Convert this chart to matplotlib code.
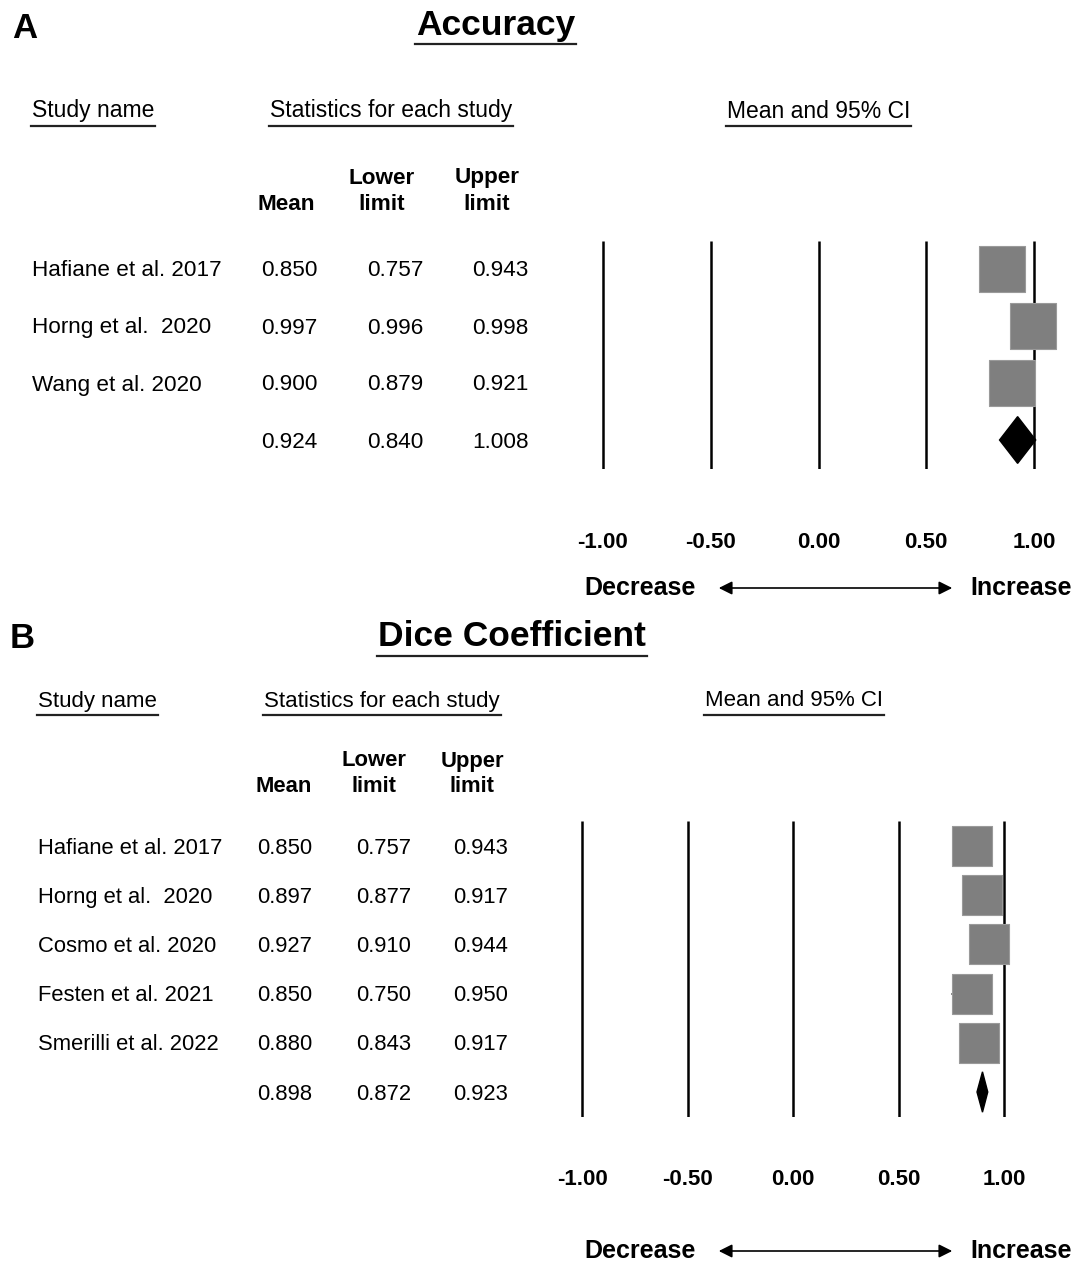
import matplotlib
matplotlib.use("Agg")
import matplotlib.pyplot as plt
from matplotlib.patches import FancyArrowPatch

plt.rcParams['font.family'] = ['Liberation Sans', 'DejaVu Sans']

W, H = 1074, 1262

# panel A - accuracy
acc_names = ["Hafiane et al. 2017", "Horng et al.  2020", "Wang et al. 2020", ""]
acc_mean = [0.850, 0.997, 0.900, 0.924]
acc_lower = [0.757, 0.996, 0.879, 0.840]
acc_upper = [0.943, 0.998, 0.921, 1.008]

# panel B - dice coefficient
dice_names = ["Hafiane et al. 2017", "Horng et al.  2020", "Cosmo et al. 2020",
              "Festen et al. 2021", "Smerilli et al. 2022", ""]
dice_mean = [0.850, 0.897, 0.927, 0.850, 0.880, 0.898]
dice_lower = [0.757, 0.877, 0.910, 0.750, 0.843, 0.872]
dice_upper = [0.943, 0.917, 0.944, 0.950, 0.917, 0.923]

ticks = [-1.0, -0.5, 0.0, 0.5, 1.0]
tick_labels = ["-1.00", "-0.50", "0.00", "0.50", "1.00"]

fig = plt.figure(figsize=(W / 100, H / 100), dpi=100)
bg = fig.add_axes([0, 0, 1, 1])
bg.set_xlim(0, W)
bg.set_ylim(H, 0)
bg.axis('off')

renderer = fig.canvas.get_renderer()


def underlined(x, y, s, size, bold=False, gap=3):
    t = bg.text(x, y, s, fontsize=size, fontweight='bold' if bold else 'normal',
                va='center', ha='left')
    bb = t.get_window_extent(renderer)
    yb = H - bb.y0 + gap
    bg.plot([bb.x0 - 1, bb.x1 + 1], [yb, yb], color='#222222', lw=1.6)
    return t


def forest(names, mean, lower, upper, cfg):
    n = len(mean)
    fs = cfg['fs']
    # header block
    bg.text(cfg['letter'][0], cfg['letter'][1], cfg['letter'][2], fontsize=25,
            fontweight='bold', va='center')
    underlined(cfg['title'][0], cfg['title'][1], cfg['title'][2], 25.5, bold=True, gap=2)
    for x, s in zip(cfg['sub_x'], ["Study name", "Statistics for each study", "Mean and 95% CI"]):
        underlined(x, cfg['sub_y'], s, cfg['sub_fs'])
    hy1, hy2 = cfg['head_y']
    hx = cfg['head_x']
    bg.text(hx[0], hy2, "Mean", fontsize=fs, fontweight='bold', ha='center', va='center')
    bg.text(hx[1], hy1, "Lower", fontsize=fs, fontweight='bold', ha='center', va='center')
    bg.text(hx[1], hy2, "limit", fontsize=fs, fontweight='bold', ha='center', va='center')
    bg.text(hx[2], hy1, "Upper", fontsize=fs, fontweight='bold', ha='center', va='center')
    bg.text(hx[2], hy2, "limit", fontsize=fs, fontweight='bold', ha='center', va='center')
    for i in range(n):
        y = cfg['row0'] + i * cfg['dy'] + 2
        bg.text(cfg['name_x'], y, names[i], fontsize=fs, va='center', ha='left')
        for x, v in zip(cfg['val_x'], [mean[i], lower[i], upper[i]]):
            bg.text(x, y, f"{v:.3f}", fontsize=fs, va='center', ha='center')

    # plot area
    xm1, xp1 = cfg['xpx']
    scale = (xp1 - xm1) / 2.0
    lim = 1.15
    left = xm1 - (lim - 1) * scale
    right = xp1 + (lim - 1) * scale
    top = cfg['row0'] - 0.5 * cfg['dy']
    bottom = cfg['row0'] + (n - 0.5) * cfg['dy']
    ax = fig.add_axes([left / W, 1 - bottom / H, (right - left) / W, (bottom - top) / H])
    ax.set_xlim(-lim, lim)
    ax.set_ylim(n - 0.5, -0.5)
    for s in ax.spines.values():
        s.set_visible(False)
    ax.set_yticks([])
    ax.set_xticks(ticks)
    ax.set_xticklabels(tick_labels, fontsize=16, fontweight='bold')
    ax.tick_params(axis='x', length=0, pad=cfg['pad'])
    ax.vlines(ticks, -0.5, n - 0.5, color='black', lw=1.8, zorder=1)

    rows = list(range(n - 1))
    ax.hlines(rows, lower[:-1], upper[:-1], color='#777777', lw=1.2, zorder=2)
    ax.scatter(mean[:-1], rows, marker='s', s=cfg['msize'], color='#7f7f7f',
               edgecolors='#9a9a9a', linewidths=0.8, zorder=3, clip_on=False)
    k = n - 1
    h = 0.41
    ax.fill([lower[k], mean[k], upper[k], mean[k]], [k, k - h, k, k + h],
            color='black', zorder=4)

    # direction arrow
    ay = cfg['arrow_y']
    bg.text(584, ay, "Decrease", fontsize=18, fontweight='bold', va='center', ha='left')
    bg.text(970, ay, "Increase", fontsize=18, fontweight='bold', va='center', ha='left')
    bg.add_patch(FancyArrowPatch((716, ay), (955, ay), arrowstyle='<|-|>',
                                 mutation_scale=20, color='black', lw=1.2))
    return ax


forest(acc_names, acc_mean, acc_lower, acc_upper, dict(
    letter=(12, 28, "A"), title=(416, 25, "Accuracy"),
    sub_x=[32, 270, 727], sub_y=111, sub_fs=16.5, fs=16.2,
    head_x=[286, 382, 487], head_y=(178, 205),
    name_x=32, val_x=[289, 395, 500], row0=269, dy=57,
    xpx=(603, 1034), pad=46, msize=1050, arrow_y=588))

forest(dice_names, dice_mean, dice_lower, dice_upper, dict(
    letter=(10, 638, "B"), title=(378, 637, "Dice Coefficient"),
    sub_x=[38, 264, 705], sub_y=701, sub_fs=16.0, fs=15.8,
    head_x=[284, 374, 472], head_y=(761, 787),
    name_x=38, val_x=[285, 384, 481], row0=846, dy=49.2,
    xpx=(582, 1004), pad=38, msize=790, arrow_y=1251))

fig.savefig("out.png", dpi=100)
